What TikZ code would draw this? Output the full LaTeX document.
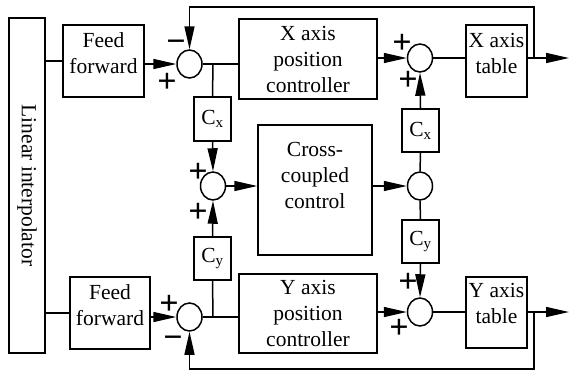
\documentclass[tikz,border=0pt]{standalone}
\usepackage{fontspec}
\setmainfont{Liberation Serif}
\usetikzlibrary{arrows.meta,shapes.geometric}

\begin{document}
\begin{tikzpicture}[x=1pt,y=-1pt,>={Triangle[length=23pt,width=10pt]},line width=1.5pt,
  blk/.style={draw,inner sep=0pt,align=center},
  lbl/.style={align=center,inner sep=0pt},
  sum/.style={draw,ellipse,inner sep=0pt,minimum width=25pt,minimum height=28pt},
  sgn/.style={inner sep=0pt,text height=20pt,text depth=0pt,font=\fontsize{34}{34}\selectfont\bfseries}]
  \useasboundingbox (0,0) rectangle (569,372);
  \fontsize{21.5}{26}\selectfont
  % blocks
  \node[blk,minimum width=36pt,minimum height=335pt] (li) at (27,185.5) {};
  \node[lbl,rotate=-90] (lit) at (li.center) {Linear interpolator};
  \node[blk,minimum width=81pt,minimum height=72pt,label={[lbl,yshift=8pt]center:Feed\\forward}] (ffx) at (103.5,61) {};
  \node[blk,minimum width=80pt,minimum height=72pt,label={[lbl,yshift=8pt]center:Feed\\forward}] (ffy) at (110,313) {};
  \node[blk,minimum width=138pt,minimum height=80pt] (xpc) at (308,59) {X axis\\position\\controller};
  \node[blk,minimum width=138pt,minimum height=79pt] (ypc) at (308,313.5) {Y axis\\position\\controller};
  \node[blk,minimum width=114pt,minimum height=130pt,label={[lbl,yshift=15pt]center:Cross-\\coupled\\control}] (cc) at (315,190) {};
  \node[blk,minimum width=61pt,minimum height=72pt,label={[lbl,yshift=8pt]center:X axis\\table}] (xt) at (496.5,61) {};
  \node[blk,minimum width=61pt,minimum height=71pt,label={[lbl,yshift=9pt]center:Y axis\\table}] (yt) at (496.5,312.5) {};
  \node[blk,minimum width=37pt,minimum height=44pt] (cx1) at (212.5,119) {C\textsubscript{x}};
  \node[blk,minimum width=37pt,minimum height=43pt] (cy1) at (212.5,258.5) {C\textsubscript{y}};
  \node[blk,minimum width=37pt,minimum height=43pt] (cx2) at (420.5,130.5) {C\textsubscript{x}};
  \node[blk,minimum width=37pt,minimum height=43pt] (cy2) at (420.5,241.5) {C\textsubscript{y}};
  % summing junctions
  \node[sum] (s1) at (189.5,64) {};
  \node[sum] (s2) at (213,186) {};
  \node[sum] (s3) at (189.5,317) {};
  \node[sum] (s4) at (420,58) {};
  \node[sum] (s5) at (420,186) {};
  \node[sum] (s6) at (420,312) {};
  \foreach \x/\y/\s [count=\i] in {176/42/−,167/82/+,169/304/+,173/338/−,198/172/+,198/212/+,402/43/+,408/80/+,408/282/+,399/328/+}
    {\node[sgn] (sg\i) at (\x,\y) {\s};}
  \coordinate (bx) at (213,64);
  \coordinate (by) at (213,317);
  \coordinate (tx) at (534,58);
  \coordinate (ty) at (534,312);
  \coordinate (fx) at (534,7);
  \coordinate (fy) at (534,369);
  \coordinate (ox) at (569,58);
  \coordinate (oy) at (569,312);
  % x channel
  \draw (ffx.west) -- (ffx.west -| li.east);
  \draw[->] (ffx.east |- s1) -- (s1.west);
  \draw (s1.east) -- (s1.east -| xpc.west);
  \draw (bx) -- (cx1.north);
  \draw[->] (cx1.south) -- (s2.north);
  \draw[->] (xpc.east |- s4) -- (s4.west);
  \draw (s4.east) -- (s4.east -| xt.west);
  \draw[->] (xt.east |- s4) -- (ox);
  \draw[->] (tx) -- (fx) -| (s1.north);
  \draw[->] (cx2.north) -- (s4.south);
  % y channel
  \draw (ffy.west) -- (ffy.west -| li.east);
  \draw[->] (ffy.east |- s3) -- (s3.west);
  \draw (s3.east) -- (s3.east -| ypc.west);
  \draw (by) -- (cy1.south);
  \draw[->] (cy1.north) -- (s2.south);
  \draw[->] (ypc.east |- s6) -- (s6.west);
  \draw (s6.east) -- (s6.east -| yt.west);
  \draw[->] (yt.east |- s6) -- (oy);
  \draw[->] (ty) -- (fy) -| (s3.south);
  \draw[->] (cy2.south) -- (s6.north);
  % cross coupling
  \draw[->] (s2.east) -- (s2.east -| cc.west);
  \draw[->] (cc.east |- s5) -- (s5.west);
  \draw (s5.north) -- (cx2.south);
  \draw (s5.south) -- (cy2.north);
\end{tikzpicture}
\end{document}
